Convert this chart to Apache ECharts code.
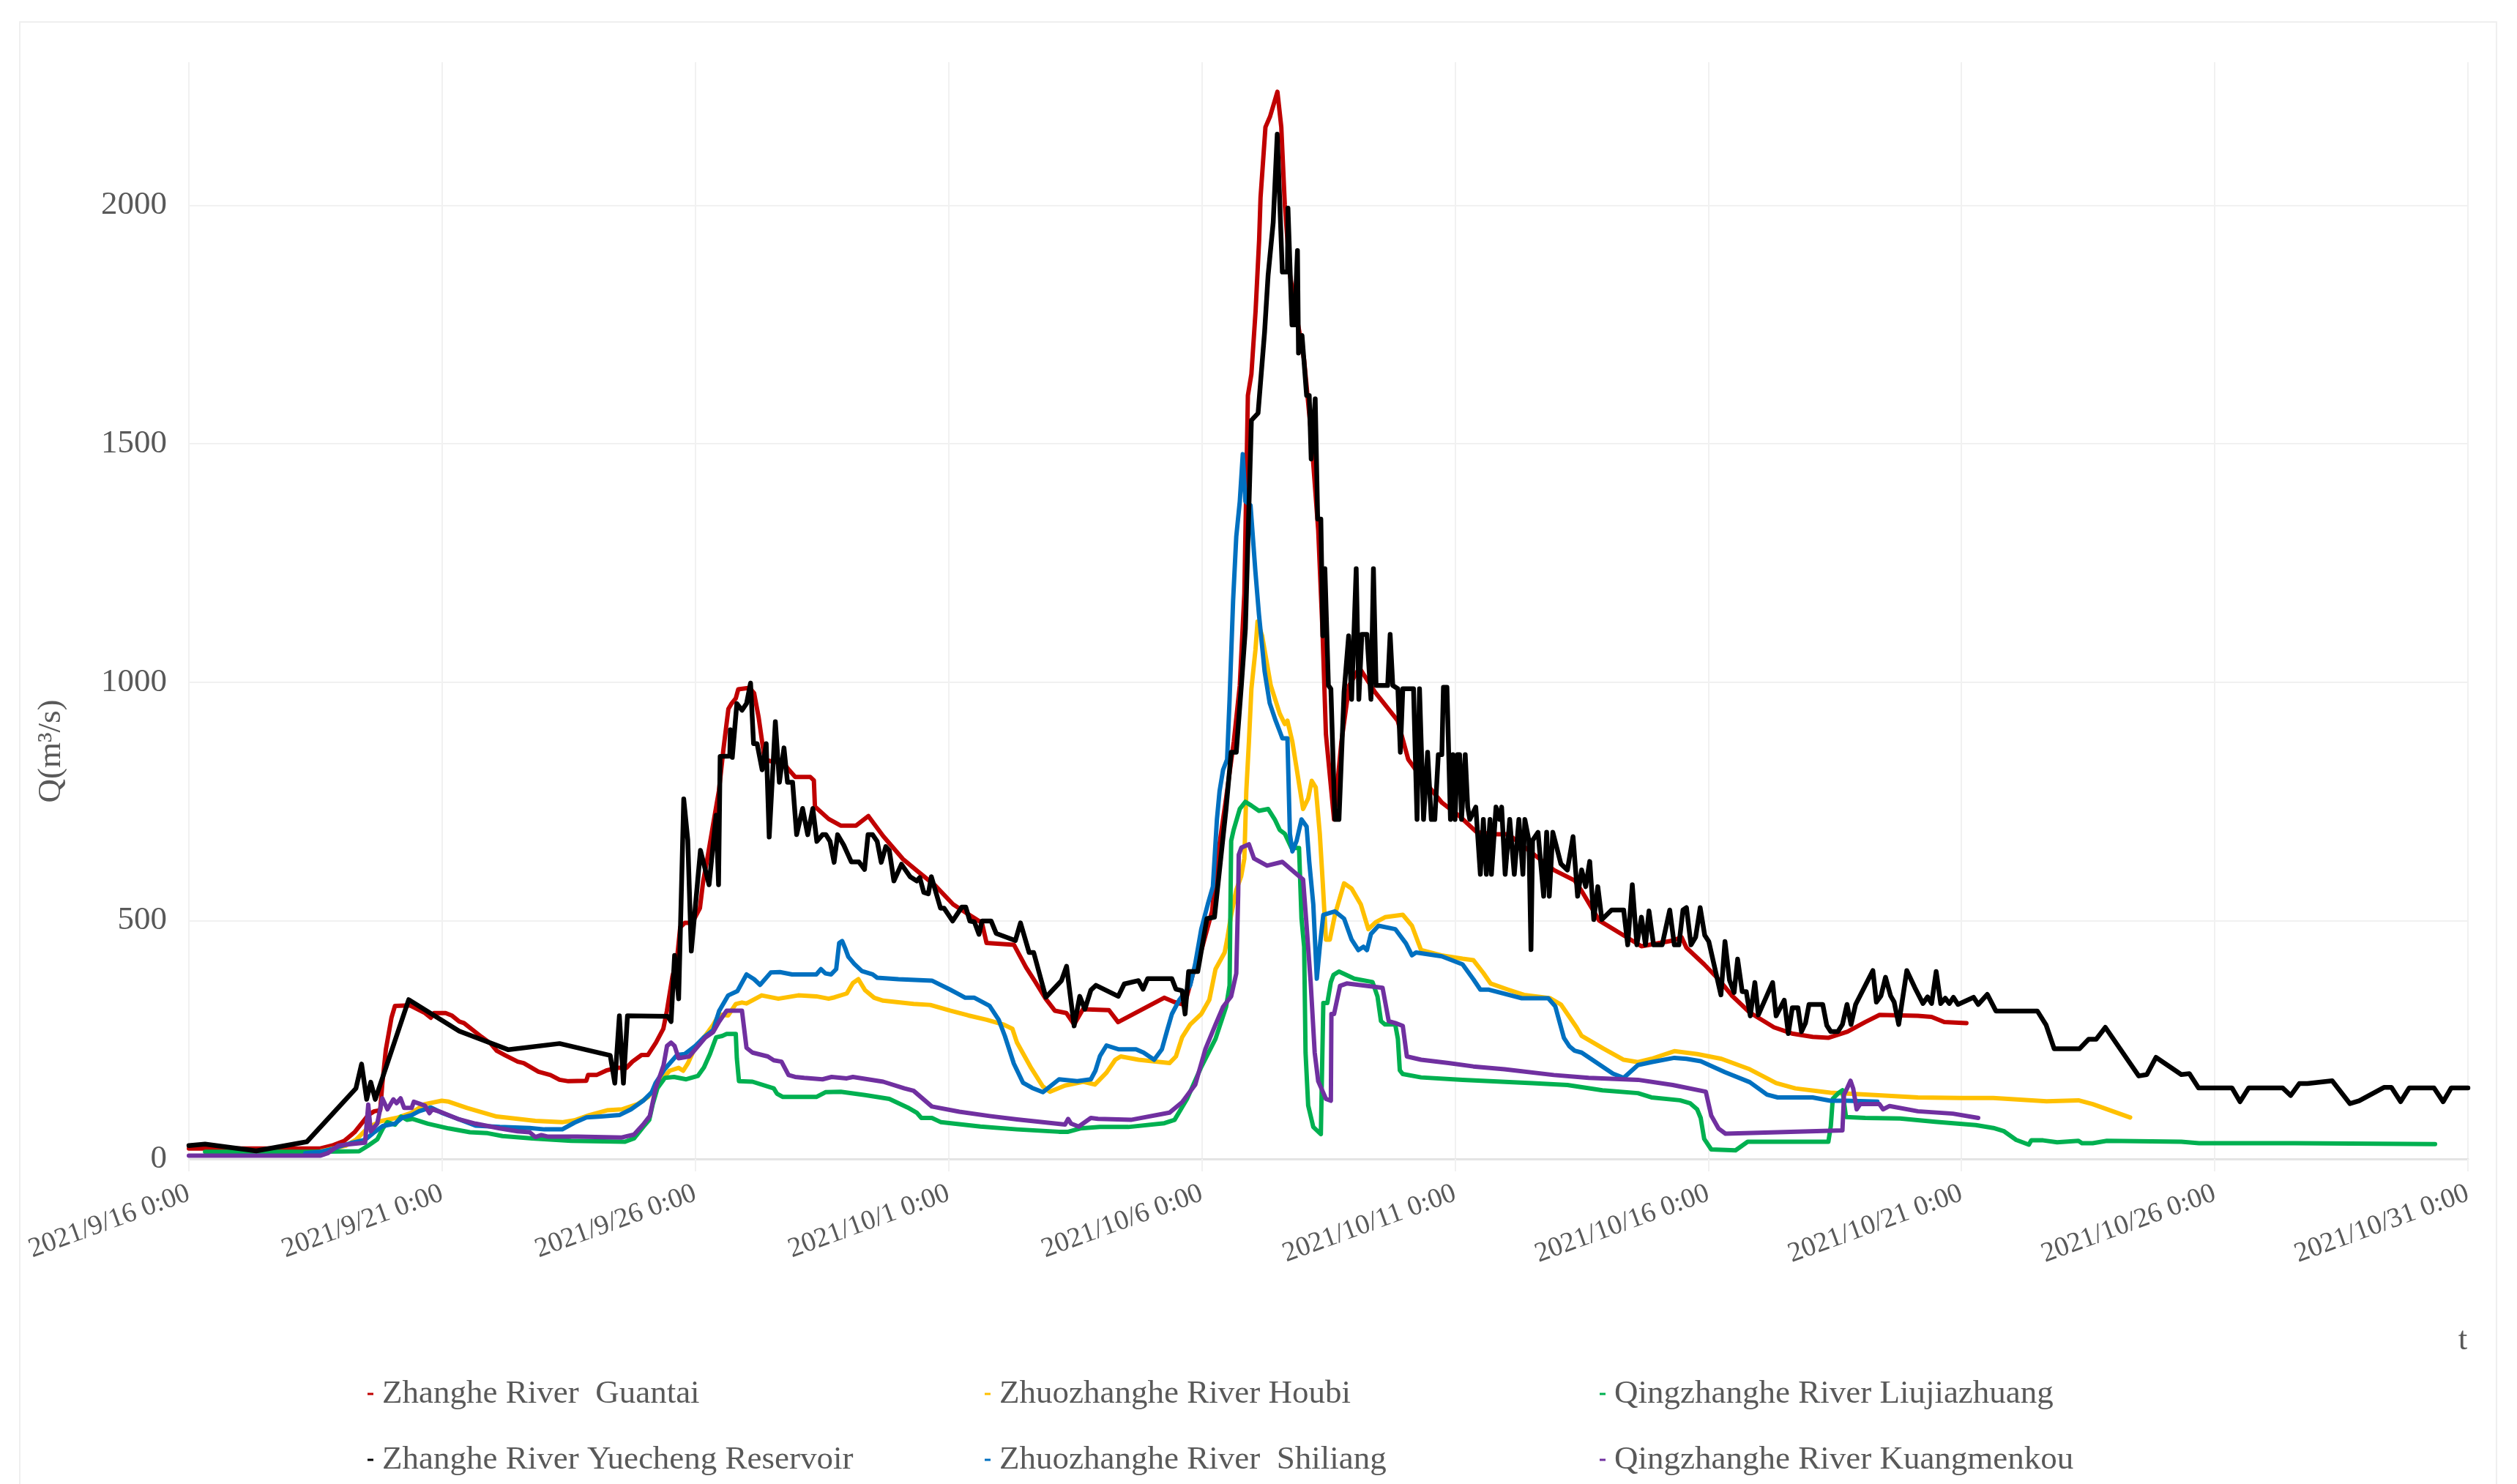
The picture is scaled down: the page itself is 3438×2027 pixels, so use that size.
<!DOCTYPE html>
<html>
<head>
<meta charset="utf-8">
<title>Q(m³/s)</title>
<script src="https://cdn.jsdelivr.net/npm/echarts@6/dist/echarts.min.js"></script>
<style>
  html, body { margin: 0; padding: 0; background: #ffffff; }
  #chart { width: 3438px; height: 2027px; }
</style>
</head>
<body>
<div id="chart"></div>
<script>
// Hydrograph of the Zhanghe river system, Sept 16 - Oct 31 2021.
// Each record: ['MM-DD HH:mm', discharge in m³/s]
const YEAR = 2021;
const START_LABEL = '09-16 00:00';
const END_LABEL = '10-31 00:00';
const TICK_DAYS = 5;
const Q_TICKS = [0, 500, 1000, 1500, 2000];

const seriesNames = [
  'Zhanghe River  Guantai',
  'Zhuozhanghe River Houbi',
  'Qingzhanghe River Liujiazhuang',
  'Zhanghe River Yuecheng Reservoir',
  'Zhuozhanghe River  Shiliang',
  'Qingzhanghe River Kuangmenkou'
];

const guantai = [
  ['09-16 00:00',22],['09-18 14:20',22],['09-18 19:50',28],['09-19 01:40',38],['09-19 06:30',56],
  ['09-19 13:00',92],['09-19 15:50',100],['09-19 18:40',102],['09-19 19:40',158],['09-19 21:20',229],
  ['09-20 00:00',296],['09-20 01:40',321],['09-20 08:50',322],['09-20 15:50',306],['09-20 18:40',296],
  ['09-20 20:10',306],['09-21 01:40',306],['09-21 04:30',301],['09-21 08:10',288],['09-21 10:20',285],
  ['09-21 18:40',256],['09-21 23:00',242],['09-22 01:50',227],['09-22 06:00',217],['09-22 11:50',204],
  ['09-22 14:40',201],['09-22 21:40',183],['09-23 03:20',176],['09-23 07:40',166],['09-23 11:50',163],
  ['09-23 20:20',164],['09-23 21:10',176],['09-24 01:10',176],['09-24 06:10',186],['09-24 10:30',191],
  ['09-24 15:20',191],['09-24 18:10',204],['09-24 22:30',218],['09-25 01:30',218],['09-25 05:20',244],
  ['09-25 08:50',273],['09-25 10:30',310],['09-25 13:10',383],['09-25 15:20',420],['09-25 16:50',486],
  ['09-25 19:00',495],['09-25 22:30',495],['09-26 02:10',526],['09-26 03:40',581],['09-26 05:30',625],
  ['09-26 08:20',699],['09-26 11:10',772],['09-26 13:20',860],['09-26 15:40',944],['09-26 17:00',954],
  ['09-26 19:10',966],['09-26 20:20',985],['09-27 01:40',988],['09-27 03:50',977],['09-27 06:00',926],
  ['09-27 08:50',838],['09-27 11:50',834],['09-27 17:30',831],['09-27 20:20',816],['09-27 23:20',801],
  ['09-28 06:30',801],['09-28 08:10',794],['09-28 08:40',739],['09-28 15:10',713],['09-28 20:50',699],
  ['09-29 04:10',699],['09-29 10:00',719],['09-29 17:00',677],['09-30 02:20',629],['09-30 09:40',602],
  ['09-30 17:30',574],['10-01 02:10',534],['10-01 08:40',515],['10-01 15:50',495],['10-01 18:00',453],
  ['10-02 07:00',449],['10-02 12:40',402],['10-02 17:00',372],['10-02 22:00',336],['10-03 02:20',311],
  ['10-03 07:50',306],['10-03 11:30',282],['10-03 15:40',314],['10-04 04:00',312],['10-04 08:20',287],
  ['10-05 06:10',338],['10-05 11:00',329],['10-05 15:50',323],['10-05 19:40',386],['10-05 23:50',438],
  ['10-06 04:50',519],['10-06 07:40',638],['10-06 11:30',756],['10-06 15:10',875],['10-06 18:00',993],
  ['10-06 20:10',1186],['10-06 21:50',1601],['10-06 23:30',1646],['10-07 01:30',1779],['10-07 03:10',1927],
  ['10-07 03:50',2016],['10-07 06:10',2164],['10-07 08:20',2186],['10-07 11:50',2238],['10-07 13:40',2164],
  ['10-07 15:20',2001],['10-07 17:50',1853],['10-07 21:40',1749],['10-08 00:30',1675],['10-08 03:40',1527],
  ['10-08 07:10',1319],['10-08 09:10',1112],['10-08 10:50',890],['10-08 14:40',712],['10-08 18:10',875],
  ['10-08 21:50',993],['10-09 02:40',1030],['10-09 10:05',979],['10-09 20:50',919],['10-10 01:50',838],
  ['10-10 07:50',801],['10-10 17:50',747],['10-11 01:50',720],['10-11 10:20',685],['10-11 18:30',681],
  ['10-12 01:10',681],['10-12 12:40',641],['10-12 22:50',606],['10-13 08:40',584],['10-13 12:00',562],
  ['10-13 20:20',500],['10-14 07:50',469],['10-14 16:20',446],['10-15 07:10',458],['10-15 11:20',465],
  ['10-15 13:40',443],['10-15 22:05',408],['10-16 04:50',377],['10-16 11:20',342],['10-16 19:40',307],
  ['10-17 07:10',276],['10-17 15:40',263],['10-18 01:30',256],['10-18 08:50',254],['10-18 18:00',267],
  ['10-19 02:20',287],['10-19 09:10',302],['10-20 03:20',300],['10-20 09:50',298],['10-20 15:50',287],
  ['10-21 02:20',285]
];

const houbi = [
  ['09-18 14:20',16],['09-19 02:20',28],['09-19 07:10',40],['09-19 13:00',66],['09-19 18:40',79],
  ['09-20 03:10',87],['09-20 09:40',97],['09-20 15:50',115],['09-20 23:50',122],['09-21 03:10',120],
  ['09-21 11:50',107],['09-22 01:50',89],['09-22 11:50',84],['09-22 20:10',80],['09-23 08:50',77],
  ['09-23 14:40',81],['09-23 21:50',92],['09-24 06:10',102],['09-24 13:10',104],['09-24 20:40',115],
  ['09-25 01:40',130],['09-25 05:20',152],['09-25 08:10',167],['09-25 11:50',185],['09-25 16:05',191],
  ['09-25 18:15',185],['09-25 20:25',200],['09-26 00:00',235],['09-26 04:50',259],['09-26 08:25',281],
  ['09-26 11:15',303],['09-26 15:35',301],['09-26 19:10',325],['09-26 22:05',328],['09-27 00:15',326],
  ['09-27 07:25',343],['09-27 15:20',336],['09-28 00:45',343],['09-28 09:20',341],['09-28 15:10',336],
  ['09-28 18:00',339],['09-28 23:45',347],['09-29 02:40',369],['09-29 05:15',377],['09-29 08:25',354],
  ['09-29 12:45',338],['09-29 17:00',332],['09-30 07:25',325],['09-30 15:20',323],['10-01 00:45',311],
  ['10-01 09:20',301],['10-01 18:00',292],['10-02 01:55',282],['10-02 06:15',273],['10-02 08:25',244],
  ['10-02 14:50',193],['10-02 20:40',152],['10-03 00:00',141],['10-03 07:10',154],['10-03 15:50',162],
  ['10-03 21:20',156],['10-04 02:50',181],['10-04 07:00',208],['10-04 09:35',215],['10-04 18:00',208],
  ['10-05 08:40',201],['10-05 11:45',215],['10-05 14:40',255],['10-05 18:30',282],['10-05 23:45',304],
  ['10-06 03:35',334],['10-06 06:30',398],['10-06 10:50',433],['10-06 12:00',460],['10-06 13:55',512],
  ['10-06 16:20',564],['10-06 18:40',593],['10-06 20:10',630],['10-06 21:05',771],['10-06 22:20',875],
  ['10-06 23:30',986],['10-07 01:25',1067],['10-07 02:25',1127],['10-07 04:35',1097],['10-07 06:55',1038],
  ['10-07 08:40',993],['10-07 12:55',934],['10-07 15:20',912],['10-07 16:35',919],['10-07 18:55',875],
  ['10-07 21:35',801],['10-08 00:00',734],['10-08 02:25',756],['10-08 04:05',793],['10-08 06:00',779],
  ['10-08 07:55',682],['10-08 09:20',578],['10-08 10:50',460],['10-08 12:40',460],['10-08 15:05',512],
  ['10-08 19:25',578],['10-08 23:00',567],['10-09 03:20',534],['10-09 06:55',482],['10-09 10:35',497],
  ['10-09 14:50',507],['10-09 23:15',512],['10-10 03:35',489],['10-10 07:55',438],['10-10 17:30',427],
  ['10-11 03:35',420],['10-11 08:40',417],['10-11 13:25',390],['10-11 16:50',368],['10-12 01:10',355],
  ['10-12 08:40',344],['10-12 21:05',337],['10-13 02:10',324],['10-13 09:35',276],['10-13 12:00',258],
  ['10-13 22:05',232],['10-14 07:55',208],['10-14 14:40',203],['10-14 21:05',210],['10-15 07:55',226],
  ['10-15 18:45',220],['10-16 06:15',210],['10-16 19:40',188],['10-17 08:10',159],['10-17 17:15',148],
  ['10-18 09:50',139],['10-19 02:25',135],['10-20 03:20',129],['10-21 00:00',128],['10-21 15:05',128],
  ['10-22 16:20',121],['10-23 07:25',123],['10-23 14:10',115],['10-24 07:55',87]
];

const liujiazhuang = [
  ['09-16 07:40',15],['09-18 08:40',15],['09-19 08:40',16],['09-19 13:00',28],['09-19 17:15',41],
  ['09-19 19:55',64],['09-19 22:05',77],['09-20 01:40',72],['09-20 04:35',89],['09-20 07:25',82],
  ['09-20 10:05',84],['09-20 17:15',74],['09-21 03:05',64],['09-21 13:10',56],['09-21 21:35',54],
  ['09-22 04:35',48],['09-22 18:45',43],['09-23 13:10',38],['09-24 14:40',36],['09-24 18:55',43],
  ['09-24 23:30',68],['09-25 02:10',82],['09-25 03:50',115],['09-25 06:00',148],['09-25 09:35',170],
  ['09-25 13:55',172],['09-25 19:40',167],['09-26 01:10',174],['09-26 04:05',192],['09-26 06:55',220],
  ['09-26 09:50',255],['09-26 12:45',258],['09-26 14:50',262],['09-26 19:10',262],['09-26 19:40',211],
  ['09-26 20:40',163],['09-27 03:05',162],['09-27 13:10',148],['09-27 14:40',137],['09-27 17:30',130],
  ['09-28 09:20',130],['09-28 13:40',140],['09-28 20:55',141],['09-29 08:25',134],['09-29 19:55',126],
  ['09-30 04:35',108],['09-30 08:55',97],['09-30 11:05',86],['09-30 16:05',86],['09-30 20:25',77],
  ['10-01 15:05',68],['10-02 08:25',62],['10-03 04:20',57],['10-03 08:40',57],['10-03 14:25',64],
  ['10-03 23:45',67],['10-04 13:10',67],['10-05 06:15',75],['10-05 11:05',82],['10-05 17:00',126],
  ['10-05 23:45',193],['10-06 06:30',252],['10-06 11:30',319],['10-06 13:10',364],['10-06 13:55',667],
  ['10-06 15:05',690],['10-06 18:00',734],['10-06 20:40',749],['10-06 23:30',741],['10-07 03:05',730],
  ['10-07 07:25',734],['10-07 10:35',712],['10-07 12:55',690],['10-07 15:20',682],['10-07 18:30',652],
  ['10-07 22:05',652],['10-07 23:15',504],['10-08 00:30',445],['10-08 01:10',223],['10-08 02:25',112],
  ['10-08 04:50',67],['10-08 08:25',52],['10-08 09:35',327],['10-08 11:30',327],['10-08 13:10',371],
  ['10-08 14:25',386],['10-08 17:00',393],['10-09 00:15',378],['10-09 08:55',371],['10-09 11:15',341],
  ['10-09 12:55',289],['10-09 14:50',282],['10-09 19:40',282],['10-09 20:55',252],['10-09 21:50',186],
  ['10-09 23:15',178],['10-10 07:55',171],['10-11 03:35',166],['10-12 12:45',159],['10-13 05:15',155],
  ['10-13 21:50',144],['10-14 14:40',138],['10-14 21:05',129],['10-15 10:35',123],['10-15 15:20',117],
  ['10-15 18:45',104],['10-15 20:25',86],['10-15 22:05',42],['10-16 01:25',20],['10-16 12:55',18],
  ['10-16 18:40',36],['10-18 08:55',36],['10-18 10:05',69],['10-18 11:00',126],['10-18 13:55',139],
  ['10-18 15:35',144],['10-18 17:15',88],['10-19 02:25',86],['10-19 18:55',85],['10-20 11:30',78],
  ['10-21 06:45',71],['10-21 15:05',65],['10-21 20:10',58],['10-22 01:55',40],['10-22 07:55',30],
  ['10-22 09:05',39],['10-22 14:40',39],['10-22 21:20',35],['10-23 07:25',38],['10-23 09:05',33],
  ['10-23 14:10',33],['10-23 20:55',38],['10-25 08:10',36],['10-25 16:35',33],['10-27 13:55',33],
  ['10-30 08:25',31]
];

const yuecheng = [
  ['09-16 00:00',28],['09-16 07:40',31],['09-17 07:55',17],['09-18 07:55',36],['09-19 07:10',148],
  ['09-19 09:50',199],['09-19 12:15',125],['09-19 14:10',161],['09-19 16:20',125],['09-20 08:10',334],
  ['09-21 08:10',268],['09-22 07:25',229],['09-23 07:40',242],['09-24 07:40',217],['09-24 09:50',159],
  ['09-24 12:00',300],['09-24 13:55',159],['09-24 15:50',300],['09-25 11:00',299],['09-25 12:30',288],
  ['09-25 14:10',427],['09-25 16:05',336],['09-25 18:30',755],['09-25 20:25',669],['09-25 22:05',436],
  ['09-26 02:25',647],['09-26 06:30',575],['09-26 09:50',721],['09-26 11:00',575],['09-26 11:45',844],
  ['09-26 16:20',845],['09-26 16:35',900],['09-26 17:30',842],['09-26 19:40',955],['09-26 22:05',941],
  ['09-27 00:15',955],['09-27 02:10',998],['09-27 03:35',871],['09-27 05:15',871],['09-27 07:40',816],
  ['09-27 09:35',871],['09-27 11:00',675],['09-27 13:55',917],['09-27 15:50',790],['09-27 18:00',862],
  ['09-27 19:40',790],['09-27 22:05',790],['09-28 00:00',680],['09-28 02:50',735],['09-28 05:15',680],
  ['09-28 07:40',735],['09-28 09:35',666],['09-28 12:15',680],['09-28 13:55',680],['09-28 15:50',666],
  ['09-28 17:45',622],['09-28 19:25',680],['09-28 22:20',658],['09-29 01:55',623],['09-29 05:30',623],
  ['09-29 08:10',607],['09-29 09:50',680],['09-29 12:00',680],['09-29 14:10',666],['09-29 16:05',622],
  ['09-29 18:15',655],['09-29 19:55',647],['09-29 22:05',583],['09-30 01:40',618],['09-30 05:45',592],
  ['09-30 08:55',583],['09-30 10:20',590],['09-30 12:15',559],['09-30 14:25',556],['09-30 15:50',592],
  ['09-30 20:10',526],['09-30 21:50',526],['10-01 01:55',499],['10-01 06:15',528],['10-01 08:10',528],
  ['10-01 10:05',499],['10-01 12:15',497],['10-01 14:25',471],['10-01 15:50',499],['10-01 20:10',499],
  ['10-01 22:35',473],['10-02 07:40',458],['10-02 10:05',495],['10-02 14:10',433],['10-02 16:20',433],
  ['10-02 22:05',339],['10-03 05:30',374],['10-03 07:55',404],['10-03 11:30',279],['10-03 14:10',341],
  ['10-03 16:35',314],['10-03 19:25',354],['10-03 21:50',364],['10-04 08:25',341],['10-04 11:15',367],
  ['10-04 18:00',374],['10-04 20:10',356],['10-04 22:20',378],['10-05 09:50',378],['10-05 11:45',356],
  ['10-05 14:40',353],['10-05 16:05',304],['10-05 17:45',393],['10-05 22:05',393],['10-06 02:25',504],
  ['10-06 06:00',507],['10-06 11:30',734],['10-06 13:55',853],['10-06 16:20',853],['10-06 18:45',993],
  ['10-06 20:40',1112],['10-06 23:30',1549],['10-07 02:40',1564],['10-07 05:45',1734],['10-07 07:25',1853],
  ['10-07 09:50',1964],['10-07 11:45',2149],['10-07 14:10',1860],['10-07 16:35',1860],['10-07 16:50',1994],
  ['10-07 18:45',1749],['10-07 19:55',1749],['10-07 21:20',1905],['10-07 21:50',1690],['10-07 23:30',1727],
  ['10-08 01:40',1601],['10-08 02:55',1601],['10-08 03:50',1468],['10-08 05:45',1594],['10-08 06:55',1342],
  ['10-08 08:25',1342],['10-08 09:20',1097],['10-08 10:20',1238],['10-08 12:00',993],['10-08 13:10',986],
  ['10-08 15:05',712],['10-08 17:00',712],['10-08 19:25',979],['10-08 21:35',1097],['10-08 23:00',964],
  ['10-09 01:10',1238],['10-09 02:25',964],['10-09 03:50',1100],['10-09 06:15',1100],['10-09 08:10',964],
  ['10-09 09:20',1238],['10-09 10:35',993],['10-09 16:05',993],['10-09 17:15',1100],['10-09 18:30',993],
  ['10-09 20:55',986],['10-09 22:05',853],['10-09 23:15',986],['10-10 04:20',986],['10-10 06:00',712],
  ['10-10 07:10',986],['10-10 09:05',712],['10-10 11:00',853],['10-10 12:45',712],['10-10 14:25',712],
  ['10-10 16:05',848],['10-10 17:45',848],['10-10 18:30',989],['10-10 20:10',989],['10-10 21:50',712],
  ['10-10 23:00',848],['10-11 00:00',712],['10-11 01:10',848],['10-11 02:10',848],['10-11 03:05',712],
  ['10-11 04:50',848],['10-11 06:00',738],['10-11 07:00',712],['10-11 09:50',738],['10-11 12:00',597],
  ['10-11 13:25',712],['10-11 14:50',597],['10-11 16:35',712],['10-11 17:15',597],['10-11 19:25',738],
  ['10-11 21:05',712],['10-11 22:05',738],['10-11 23:45',597],['10-12 01:55',712],['10-12 04:05',597],
  ['10-12 06:15',712],['10-12 08:10',597],['10-12 09:05',712],['10-12 11:00',668],['10-12 12:00',439],
  ['10-12 12:45',668],['10-12 15:20',685],['10-12 18:00',551],['10-12 19:25',685],['10-12 20:40',551],
  ['10-12 22:20',685],['10-13 02:10',619],['10-13 05:15',606],['10-13 07:55',676],['10-13 10:05',551],
  ['10-13 12:00',606],['10-13 13:55',571],['10-13 15:50',624],['10-13 17:45',502],['10-13 19:40',571],
  ['10-13 21:35',502],['10-14 02:10',522],['10-14 07:55',522],['10-14 09:50',449],['10-14 12:00',575],
  ['10-14 14:10',449],['10-14 16:20',507],['10-14 18:15',449],['10-14 19:55',520],['10-14 22:05',449],
  ['10-15 02:10',449],['10-15 05:45',522],['10-15 07:55',449],['10-15 10:05',449],['10-15 12:00',522],
  ['10-15 13:40',527],['10-15 15:50',449],['10-15 18:00',465],['10-15 20:10',527],['10-15 22:20',469],
  ['10-16 00:15',456],['10-16 06:00',344],['10-16 07:55',456],['10-16 10:05',375],['10-16 12:15',349],
  ['10-16 13:55',419],['10-16 16:05',351],['10-16 18:00',351],['10-16 19:55',300],['10-16 22:05',370],
  ['10-16 23:45',302],['10-17 06:30',370],['10-17 08:10',300],['10-17 12:00',333],['10-17 13:55',263],
  ['10-17 15:50',317],['10-17 18:30',317],['10-17 20:10',267],['10-17 22:05',285],['10-17 23:45',324],
  ['10-18 06:15',324],['10-18 08:10',280],['10-18 10:05',267],['10-18 13:25',267],['10-18 15:35',282],
  ['10-18 17:45',324],['10-18 19:40',282],['10-18 21:50',324],['10-19 06:00',395],['10-19 07:40',329],
  ['10-19 09:50',342],['10-19 12:00',381],['10-19 14:25',342],['10-19 16:05',329],['10-19 18:15',282],
  ['10-19 22:05',395],['10-20 01:55',359],['10-20 05:45',326],['10-20 07:55',340],['10-20 09:50',326],
  ['10-20 12:00',393],['10-20 14:10',326],['10-20 16:20',337],['10-20 18:15',326],['10-20 20:10',339],
  ['10-20 22:20',324],['10-21 05:45',339],['10-21 07:55',324],['10-21 12:15',345],['10-21 16:20',310],
  ['10-22 12:00',310],['10-22 16:05',281],['10-22 19:55',231],['10-23 07:55',231],['10-23 12:15',251],
  ['10-23 15:50',251],['10-23 20:10',276],['10-24 12:00',174],['10-24 15:50',177],['10-24 20:10',213],
  ['10-25 08:10',177],['10-25 12:00',179],['10-25 16:20',149],['10-26 08:10',149],['10-26 12:00',120],
  ['10-26 16:05',149],['10-27 08:10',149],['10-27 12:00',133],['10-27 16:05',158],['10-27 19:55',158],
  ['10-28 07:40',164],['10-28 16:05',116],['10-28 20:25',122],['10-29 08:10',150],['10-29 11:45',150],
  ['10-29 16:05',120],['10-29 20:10',149],['10-30 07:55',149],['10-30 12:15',120],['10-30 16:05',149],
  ['10-31 00:00',149]
];

const shiliang = [
  ['09-18 07:10',12],['09-18 14:25',15],['09-18 19:55',21],['09-19 04:35',33],['09-19 11:30',40],
  ['09-19 15:50',56],['09-19 19:55',69],['09-20 01:40',74],['09-20 05:15',87],['09-20 09:35',92],
  ['09-20 13:00',100],['09-20 18:40',108],['09-21 00:15',96],['09-21 07:25',84],['09-21 15:50',70],
  ['09-22 03:20',67],['09-22 17:30',65],['09-23 00:30',62],['09-23 08:55',62],['09-23 14:40',76],
  ['09-23 20:25',87],['09-24 03:20',89],['09-24 12:00',92],['09-24 17:30',104],['09-24 23:15',122],
  ['09-25 03:20',140],['09-25 05:15',160],['09-25 09:35',189],['09-25 15:20',218],['09-25 19:00',220],
  ['09-26 00:00',237],['09-26 04:05',255],['09-26 08:25',270],['09-26 11:15',310],['09-26 15:35',343],
  ['09-26 19:55',352],['09-27 00:15',387],['09-27 03:50',377],['09-27 06:40',365],['09-27 11:45',391],
  ['09-27 16:05',392],['09-27 21:50',387],['09-28 09:20',387],['09-28 11:30',398],['09-28 13:40',389],
  ['09-28 16:20',387],['09-28 18:45',398],['09-28 20:10',453],['09-28 21:35',457],['09-28 23:00',442],
  ['09-29 00:30',424],['09-29 03:20',409],['09-29 06:55',394],['09-29 12:00',387],['09-29 14:10',380],
  ['09-30 00:15',377],['09-30 16:05',374],['10-01 00:45',355],['10-01 05:05',345],['10-01 07:55',338],
  ['10-01 12:15',338],['10-01 19:25',321],['10-01 23:45',292],['10-02 02:40',258],['10-02 06:55',200],
  ['10-02 11:15',160],['10-02 15:35',149],['10-02 20:40',140],['10-03 04:20',167],['10-03 13:00',163],
  ['10-03 19:25',167],['10-03 21:35',185],['10-03 23:45',216],['10-04 02:50',238],['10-04 08:25',230],
  ['10-04 16:50',230],['10-04 20:25',223],['10-05 01:25',208],['10-05 05:05',230],['10-05 07:25',267],
  ['10-05 09:50',304],['10-05 13:25',334],['10-05 18:30',364],['10-05 20:50',408],['10-05 23:45',482],
  ['10-06 02:50',534],['10-06 05:15',571],['10-06 07:10',712],['10-06 08:25',771],['10-06 10:05',816],
  ['10-06 12:00',838],['10-06 13:10',964],['10-06 14:50',1171],['10-06 16:20',1305],['10-06 18:00',1379],
  ['10-06 19:25',1478],['10-06 20:40',1379],['10-06 23:05',1371],['10-07 01:25',1231],['10-07 03:05',1142],
  ['10-07 05:45',1023],['10-07 08:10',956],['10-07 11:00',919],['10-07 12:55',897],['10-07 14:10',882],
  ['10-07 16:35',882],['10-07 17:45',682],['10-07 18:55',645],['10-07 20:55',667],['10-07 23:15',712],
  ['10-08 01:40',697],['10-08 02:55',623],['10-08 04:50',534],['10-08 06:30',378],['10-08 07:55',445],
  ['10-08 09:35',512],['10-08 15:05',519],['10-08 19:25',504],['10-08 23:00',460],['10-09 02:10',438],
  ['10-09 04:35',445],['10-09 06:15',438],['10-09 08:10',472],['10-09 11:45',489],['10-09 19:40',482],
  ['10-10 00:45',452],['10-10 03:35',427],['10-10 05:30',433],['10-10 17:45',425],['10-11 03:35',408],
  ['10-11 08:40',377],['10-11 12:00',355],['10-11 16:05',355],['10-12 07:40',337],['10-12 20:10',337],
  ['10-12 23:30',320],['10-13 03:35',254],['10-13 06:15',236],['10-13 08:40',227],['10-13 12:00',223],
  ['10-14 02:50',179],['10-14 07:55',170],['10-14 14:40',197],['10-14 21:05',203],['10-15 07:55',212],
  ['10-15 13:40',210],['10-15 20:25',205],['10-16 07:55',182],['10-16 19:40',161],['10-17 03:50',135],
  ['10-17 08:55',129],['10-18 01:25',129],['10-18 09:50',122],['10-18 18:00',122],['10-19 08:10',120]
];

const kuangmenkou = [
  ['09-16 00:00',7],['09-18 14:25',7],['09-18 17:45',12],['09-18 22:50',28],['09-19 04:35',31],
  ['09-19 11:30',34],['09-19 13:00',114],['09-19 14:10',58],['09-19 17:15',74],['09-19 19:40',127],
  ['09-19 22:05',104],['09-20 00:55',125],['09-20 02:25',117],['09-20 04:20',127],['09-20 06:00',107],
  ['09-20 09:35',107],['09-20 10:35',120],['09-20 15:50',112],['09-20 18:00',96],['09-20 19:25',104],
  ['09-20 23:05',99],['09-21 07:25',84],['09-21 15:50',74],['09-22 03:20',64],['09-22 11:45',58],
  ['09-22 17:30',56],['09-22 20:10',46],['09-22 23:00',50],['09-23 01:55',47],['09-23 16:05',47],
  ['09-24 13:10',45],['09-24 18:55',51],['09-24 23:15',72],['09-25 02:25',90],['09-25 05:15',149],
  ['09-25 08:55',196],['09-25 10:35',237],['09-25 12:30',244],['09-25 14:10',237],['09-25 16:05',211],
  ['09-25 21:05',215],['09-26 01:25',237],['09-26 04:50',255],['09-26 08:25',266],['09-26 11:15',288],
  ['09-26 14:50',311],['09-26 22:05',311],['09-27 00:15',233],['09-27 03:05',223],['09-27 10:20',215],
  ['09-27 13:10',207],['09-27 16:50',204],['09-27 20:10',176],['09-27 23:15',172],['09-28 03:35',170],
  ['09-28 12:15',167],['09-28 16:35',172],['09-28 23:45',169],['09-29 02:40',172],['09-29 17:00',162],
  ['09-30 03:05',148],['09-30 07:25',143],['09-30 16:05',110],['10-01 05:05',99],['10-01 19:25',90],
  ['10-02 08:25',83],['10-03 07:10',72],['10-03 08:40',84],['10-03 10:05',74],['10-03 13:40',68],
  ['10-03 19:25',86],['10-03 22:50',84],['10-04 14:25',82],['10-05 08:40',97],['10-05 14:40',119],
  ['10-05 20:55',156],['10-06 01:40',230],['10-06 06:30',282],['10-06 10:05',319],['10-06 13:55',341],
  ['10-06 16:20',389],['10-06 17:15',556],['10-06 17:30',638],['10-06 18:45',653],['10-06 22:20',660],
  ['10-07 00:45',630],['10-07 06:55',615],['10-07 14:10',623],['10-07 18:55',605],['10-08 00:00',586],
  ['10-08 01:40',489],['10-08 03:35',371],['10-08 05:30',223],['10-08 07:10',163],['10-08 10:50',126],
  ['10-08 13:10',122],['10-08 13:25',304],['10-08 14:40',304],['10-08 17:30',363],['10-08 20:40',368],
  ['10-09 13:40',359],['10-09 16:35',289],['10-09 19:40',285],['10-09 23:15',279],['10-10 01:10',215],
  ['10-10 07:55',208],['10-10 20:55',201],['10-11 08:40',194],['10-11 23:30',188],['10-12 22:50',176],
  ['10-13 15:20',170],['10-14 14:40',166],['10-15 07:10',155],['10-15 22:50',141],['10-16 01:25',91],
  ['10-16 04:50',64],['10-16 08:10',53],['10-17 08:55',56],['10-18 15:35',60],['10-18 16:20',135],
  ['10-18 18:00',150],['10-18 19:25',164],['10-18 20:40',148],['10-18 22:20',104],['10-19 00:00',115],
  ['10-19 09:05',115],['10-19 10:50',104],['10-19 13:55',111],['10-20 03:20',100],['10-20 19:55',95],
  ['10-21 07:55',86]
];

const seriesColors = ['#C00000', '#FFC000', '#00B050', '#000000', '#0070C0', '#7030A0'];
const seriesRecords = [guantai, houbi, liujiazhuang, yuecheng, shiliang, kuangmenkou];
// drawing order, bottom to top
const drawOrder = [0, 1, 2, 4, 5, 3];

const DAY = 86400000;
function toTime(label) {
  const [md, hm] = label.split(' ');
  const [mo, d] = md.split('-').map(Number);
  const [h, mi] = hm.split(':').map(Number);
  return Date.UTC(YEAR, mo - 1, d, h, mi);
}
const START = toTime(START_LABEL);
const END = toTime(END_LABEL);
const toDays = label => (toTime(label) - START) / DAY;

function tickLabel(v) {
  const dt = new Date(START + Math.round(v * DAY));
  const mm = String(dt.getUTCMinutes()).padStart(2, '0');
  return dt.getUTCFullYear() + '/' + (dt.getUTCMonth() + 1) + '/' + dt.getUTCDate() + ' ' + dt.getUTCHours() + ':' + mm;
}

const FONT = 'Liberation Serif';
const TEXT = '#595959';
const GRID_LINE = '#f1f1f1';

const chart = echarts.init(document.getElementById('chart'), null, { renderer: 'canvas' });

const series = drawOrder.map(i => ({
  name: seriesNames[i],
  type: 'line',
  data: seriesRecords[i].map(r => [toDays(r[0]), r[1]]),
  showSymbol: false,
  symbol: 'none',
  smooth: false,
  z: 2,
  lineStyle: { color: seriesColors[i], width: i === 3 ? 6.5 : 6, join: 'round', cap: 'round' },
  itemStyle: { color: seriesColors[i] },
  emphasis: { disabled: true }
}));

function legendColumn(left, idxA, idxB) {
  return {
    orient: 'vertical',
    left: left,
    top: 1878,
    padding: 0,
    itemGap: 38,
    itemWidth: 8,
    itemHeight: 3,
    icon: 'rect',
    selectedMode: false,
    data: [seriesNames[idxA], seriesNames[idxB]],
    textStyle: { fontFamily: FONT, fontSize: 45, color: TEXT, lineHeight: 52, padding: [0, 0, 0, 7] }
  };
}

chart.setOption({
  animation: false,
  backgroundColor: '#ffffff',
  color: seriesColors,
  grid: { left: 258, right: 67, top: 85, bottom: 444, containLabel: false },
  xAxis: {
    type: 'value',
    min: 0,
    max: (END - START) / DAY,
    interval: TICK_DAYS,
    axisLine: { show: true, lineStyle: { color: '#e4e4e4', width: 3 } },
    axisTick: { show: true, length: 17, lineStyle: { color: GRID_LINE, width: 2 } },
    splitLine: { show: true, lineStyle: { color: GRID_LINE, width: 2 } },
    axisLabel: {
      rotate: 20,
      margin: 46,
      fontFamily: FONT,
      fontSize: 38,
      color: TEXT,
      formatter: tickLabel
    }
  },
  yAxis: {
    type: 'value',
    min: Q_TICKS[0],
    max: 2300,
    interval: Q_TICKS[1] - Q_TICKS[0],
    axisLine: { show: false },
    axisTick: { show: false },
    splitLine: { show: true, showMaxLine: false, lineStyle: { color: GRID_LINE, width: 2 } },
    axisLabel: {
      showMaxLabel: false,
      margin: 30,
      fontFamily: FONT,
      fontSize: 45,
      color: TEXT,
      formatter: v => String(v)
    }
  },
  legend: [
    legendColumn(502, 0, 3),
    legendColumn(1345, 1, 4),
    legendColumn(2185, 2, 5)
  ],
  graphic: [
    {
      type: 'rect',
      silent: true,
      z: -10,
      shape: { x: 27, y: 30, width: 3383, height: 2030 },
      style: { fill: null, stroke: '#efefef', lineWidth: 2 }
    },
    {
      type: 'text',
      silent: true,
      x: 70,
      y: 1026,
      rotation: Math.PI / 2,
      style: { text: 'Q(m³/s)', fontFamily: FONT, fontSize: 45, fill: TEXT, align: 'center', verticalAlign: 'middle' }
    },
    {
      type: 'text',
      silent: true,
      x: 3364,
      y: 1831,
      style: { text: 't', fontFamily: FONT, fontSize: 45, fill: TEXT, align: 'center', verticalAlign: 'middle' }
    }
  ],
  series: series
});
</script>
</body>
</html>
